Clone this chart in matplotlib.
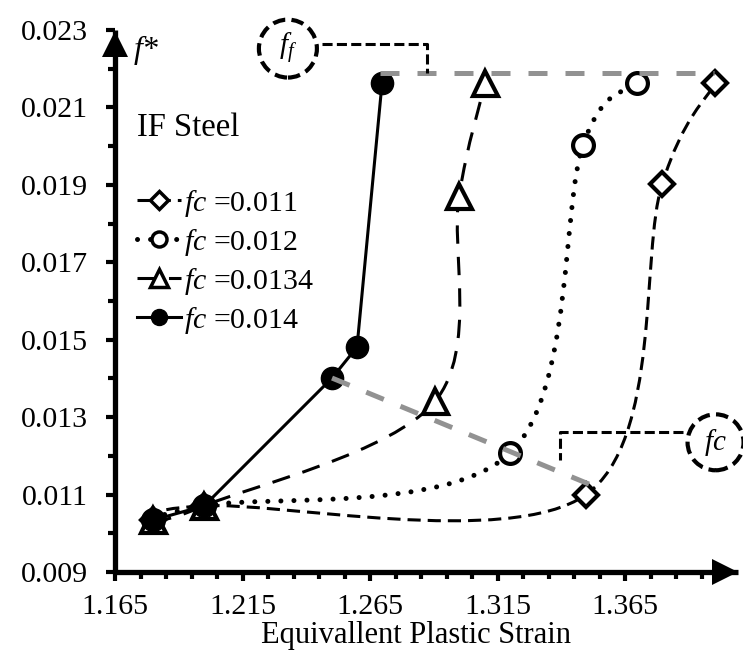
import matplotlib
matplotlib.use("Agg")
import matplotlib.pyplot as plt
from matplotlib.path import Path
from matplotlib.patches import PathPatch, Ellipse
from matplotlib.lines import Line2D

plt.rcParams["font.family"] = ["Liberation Serif", "DejaVu Serif"]
plt.rcParams["mathtext.fontset"] = "custom"
plt.rcParams["mathtext.rm"] = "Liberation Serif"
plt.rcParams["mathtext.it"] = "Liberation Serif:italic"

# ---- data: void volume fraction f* vs equivalent plastic strain ----
strain_011 = [1.1799, 1.2000, 1.3495, 1.3795, 1.4003]
f_011 = [0.01034, 0.01071, 0.01099, 0.01901, 0.02162]

strain_012 = [1.1799, 1.2000, 1.3199, 1.3485, 1.3697]
f_012 = [0.01034, 0.01071, 0.01207, 0.02002, 0.02162]

strain_0134 = [1.1799, 1.2000, 1.2905, 1.2999, 1.3101]
f_0134 = [0.01034, 0.01071, 0.01341, 0.01870, 0.02162]

strain_014 = [1.1799, 1.2000, 1.2501, 1.2599, 1.2697]
f_014 = [0.01034, 0.01071, 0.01401, 0.01481, 0.02162]

series_labels = [r"$fc$ =0.011", r"$fc$ =0.012", r"$fc$ =0.0134", r"$fc$ =0.014"]

x_major = [1.165, 1.215, 1.265, 1.315, 1.365]
x_major_labels = ["1.165", "1.215", "1.265", "1.315", "1.365"]
x_minor = [1.165 + 0.01 * i for i in range(24)]
y_major = [0.009, 0.011, 0.013, 0.015, 0.017, 0.019, 0.021, 0.023]
y_major_labels = ["0.009", "0.011", "0.013", "0.015", "0.017", "0.019", "0.021", "0.023"]
y_minor = [0.009 + 0.001 * i for i in range(15)]

X_MIN, X_MAX = 1.165, 1.4093
Y_MIN, Y_MAX = 0.009, 0.023

# failure level f_F and the locus of f_c onset points
ff_level = 0.0219
ff_line_x = [1.2689, 1.4000]
fc_line_x = [1.2501, 1.3520]
fc_line_y = [0.01401, 0.01124]


def smooth_path(xs, ys):
    """Cubic Bezier path through the points (Catmull-Rom style smoothing)."""
    pts = list(zip(xs, ys))
    n = len(pts)
    verts = [pts[0]]
    codes = [Path.MOVETO]
    for i in range(n - 1):
        p0 = pts[i - 1] if i > 0 else pts[i]
        p1 = pts[i]
        p2 = pts[i + 1]
        p3 = pts[i + 2] if i + 2 < n else pts[i + 1]
        c1 = (p1[0] + (p2[0] - p0[0]) / 6, p1[1] + (p2[1] - p0[1]) / 6)
        c2 = (p2[0] - (p3[0] - p1[0]) / 6, p2[1] - (p3[1] - p1[1]) / 6)
        verts += [c1, c2, p2]
        codes += [Path.CURVE4] * 3
    return Path(verts, codes)


fig = plt.figure(figsize=(7.43, 6.52), dpi=100)
ax = fig.add_axes([115 / 743, 80 / 652, 623 / 743, 542 / 652])
ax.set_xlim(X_MIN, X_MAX)
ax.set_ylim(Y_MIN, Y_MAX)

# ---- axes styling ----
for side in ("top", "right"):
    ax.spines[side].set_visible(False)
for side in ("left", "bottom"):
    ax.spines[side].set_linewidth(3.8)
    ax.spines[side].set_capstyle("butt")

ax.set_xticks(x_major)
ax.set_xticklabels(x_major_labels)
ax.set_xticks(x_minor, minor=True)
ax.set_yticks(y_major)
ax.set_yticklabels(y_major_labels)
ax.set_yticks(y_minor, minor=True)
ax.tick_params(which="major", length=6.5, width=3, direction="out", labelsize=21.5)
ax.tick_params(which="minor", length=5, width=3, direction="out")
ax.tick_params(axis="x", which="major", pad=9)
ax.tick_params(axis="y", which="major", pad=13)

# arrow heads on the axes
ax.plot([0], [1 - 13.5 / 542], marker="^", ms=19, color="black", mew=0,
        transform=ax.transAxes, clip_on=False, zorder=10)
ax.plot([1 - 13.0 / 623], [0], marker=">", ms=19, color="black", mew=0,
        transform=ax.transAxes, clip_on=False, zorder=10)

# ---- series ----
styles = [
    dict(xs=strain_011, ys=f_011, marker="D", ms=12.5, lw=2.2, ls=(0, (4.3, 2.3)),
         smooth=True, mfc="white", cap="butt"),
    dict(xs=strain_012, ys=f_012, marker="o", ms=15, lw=3.6, ls=(0, (0.01, 2.6)),
         smooth=True, mfc="white", cap="round"),
    dict(xs=strain_0134, ys=f_0134, marker="^", ms=18, lw=2.2, ls=(0, (6.0, 4.3)),
         smooth=True, mfc="white", cap="butt"),
    dict(xs=strain_014, ys=f_014, marker="o", ms=16, lw=2.2, ls="-",
         smooth=False, mfc="black", cap="butt"),
]

handles = []
for k, st in enumerate(styles):
    z = 2 + k
    if st["smooth"]:
        patch = PathPatch(smooth_path(st["xs"], st["ys"]), fill=False, ec="black",
                          lw=st["lw"], ls=st["ls"], zorder=z)
        patch.set_capstyle(st["cap"])
        ax.add_patch(patch)
    else:
        ax.plot(st["xs"], st["ys"], color="black", lw=st["lw"], ls=st["ls"], zorder=z)
    mew = 1 if st["mfc"] == "black" else 3
    ax.plot(st["xs"], st["ys"], ls="none", marker=st["marker"], ms=st["ms"],
            mfc=st["mfc"], mec="black", mew=mew, zorder=z + 0.5)
    h = Line2D([], [], color="black", lw=st["lw"], ls=st["ls"], marker=st["marker"],
               ms=st["ms"] * 0.72, mfc=st["mfc"], mec="black", mew=2.5 if mew == 3 else 1,
               dash_capstyle=st["cap"])
    handles.append(h)

leg = ax.legend(handles, series_labels, loc="upper left",
                bbox_to_anchor=(0.036, 0.709), frameon=False, fontsize=21.5,
                handlelength=1.47, handletextpad=0.1, labelspacing=0.27,
                borderpad=0, borderaxespad=0)

# ---- annotation lines ----
grey = "#929292"
ax.plot(ff_line_x, [ff_level, ff_level], color=grey, lw=3.6, ls=(0, (3.8, 3.6)),
        dash_capstyle="butt", zorder=8)
ax.plot(fc_line_x, fc_line_y, color=grey, lw=3.6, ls=(0, (3.8, 3.6)),
        dash_capstyle="butt", zorder=8)

bracket_ls = (0, (3.3, 1.4))
ax.plot([1.2462, 1.2873, 1.2873], [0.02265, 0.02265, ff_level], color="black",
        lw=2.2, ls=bracket_ls, clip_on=False, zorder=9)
ax.plot([1.3877, 1.3395, 1.3395], [0.01261, 0.01261, 0.01189], color="black",
        lw=2.2, ls=bracket_ls, clip_on=False, zorder=9)

# dashed circles with labels
px_x = 0.05 / 127.5
px_y = 0.002 / 77.5
for (cx, cy, r, txt) in [(1.2328, 0.02252, 29, r"$f_f$"), (1.4005, 0.01235, 28, r"$fc$")]:
    e = Ellipse((cx, cy), 2 * r * px_x, 2 * r * px_y, fill=False, ec="black", lw=3,
                ls=(0, (3.0, 1.5)), clip_on=False, zorder=9)
    ax.add_patch(e)
    ax.text(cx, cy, txt, ha="center", va="center", fontsize=21, zorder=9, clip_on=False)

# ---- texts ----
ax.text(1.1722, 0.02247, "f*", fontsize=23, style="italic", ha="left", va="center",
        clip_on=False)
ax.text(1.1736, 0.02048, "IF Steel", fontsize=23.5, ha="left", va="center")
fig.text(416 / 743, 1 - 636 / 652, "Equivallent Plastic Strain", ha="center",
         va="center", fontsize=22)

fig.savefig("out.png", dpi=100)
